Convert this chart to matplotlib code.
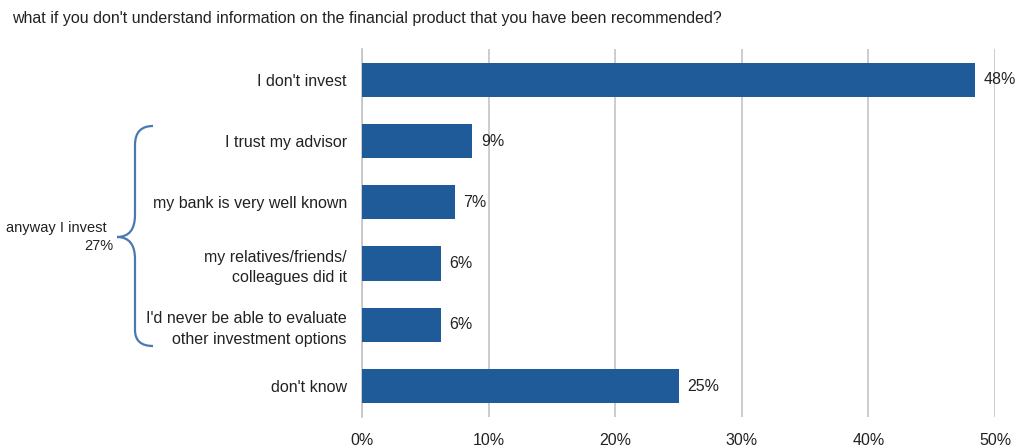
import matplotlib.pyplot as plt
from matplotlib.path import Path
from matplotlib.patches import PathPatch

plt.rcParams['font.family'] = ['Liberation Sans', 'DejaVu Sans']

categories = ["I don't invest", "I trust my advisor", "my bank is very well known",
              "my relatives/friends/\ncolleagues did it",
              "I'd never be able to evaluate\nother investment options", "don't know"]
values = [48.4, 8.7, 7.3, 6.2, 6.2, 25.0]
value_labels = ["48%", "9%", "7%", "6%", "6%", "25%"]
xticks = [0, 10, 20, 30, 40, 50]

bar_color = '#1F5A99'
grid_color = '#C4C4C4'
text_color = '#222222'

fig = plt.figure(figsize=(10.29, 4.48), dpi=100)
ax = fig.add_axes([0.352, 0.070, 0.615, 0.820])

ypos = list(range(len(categories)))
ax.barh(ypos, values, height=0.56, color=bar_color, zorder=3)
for y, v, lab in zip(ypos, values, value_labels):
    ax.text(v + 0.7, y, lab, va='center', ha='left', fontsize=11.5, color=text_color)

ax.set_ylim(len(categories) - 0.5, -0.5)
ax.set_xlim(0, 50)
ax.set_yticks(ypos)
ax.set_yticklabels(categories, fontsize=11.5, color=text_color, linespacing=1.45)
ax.set_xticks(xticks)
ax.set_xticklabels([f"{t}%" for t in xticks], fontsize=11.5, color=text_color)
ax.tick_params(axis='y', length=0, pad=11)
ax.tick_params(axis='x', length=0, pad=12)
ax.grid(axis='x', color=grid_color, linewidth=1.2, zorder=0)
for s in ['top', 'right', 'bottom']:
    ax.spines[s].set_visible(False)
ax.spines['left'].set_color(grid_color)
ax.spines['left'].set_linewidth(1.2)

fig.text(12 / 1029, 1 - 18 / 448, "what if you don't understand information on the financial product that you have been recommended?",
         fontsize=11.5, color=text_color, va='center', ha='left')

# curly brace for the "anyway I invest" group
def px(x, y):
    return (x / 1029, 1 - y / 448)

verts = [px(153, 126), px(135, 126), px(135, 145), px(135, 160),
         px(135, 215), px(135, 237), px(117, 237),
         px(135, 237), px(135, 259), px(135, 315),
         px(135, 330), px(135, 346), px(153, 346)]
codes = [Path.MOVETO, Path.CURVE3, Path.CURVE3, Path.LINETO,
         Path.LINETO, Path.CURVE3, Path.CURVE3,
         Path.CURVE3, Path.CURVE3, Path.LINETO,
         Path.LINETO, Path.CURVE3, Path.CURVE3]
brace = PathPatch(Path(verts, codes), transform=fig.transFigure, facecolor='none',
                  edgecolor='#4A78B0', linewidth=1.6)
fig.patches.append(brace)

fig.text(107 / 1029, 1 - 228 / 448, "anyway I invest", fontsize=10.5, color=text_color, ha='right', va='center')
fig.text(113 / 1029, 1 - 246 / 448, "27%", fontsize=10.5, color=text_color, ha='right', va='center')

fig.savefig('out.png', dpi=100)
